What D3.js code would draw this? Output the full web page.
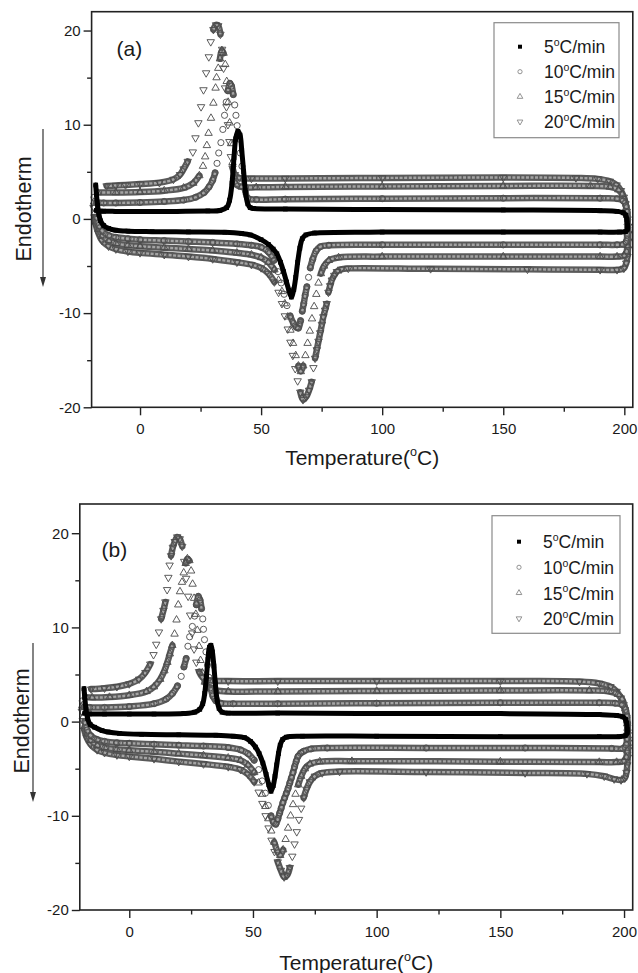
<!DOCTYPE html>
<html>
<head>
<meta charset="utf-8">
<style>
  body { margin: 0; background: #fff; }
  svg { display: block; font-family: "Liberation Sans", Arial, sans-serif; }
</style>
</head>
<body>
<svg id="chart" width="638" height="973"></svg>
<script src="https://cdn.jsdelivr.net/npm/d3@7/dist/d3.min.js"></script>
<script>
  // ---- data: [temperature °C, heat flow] ----
  // panel (a)
  const a5Heat = [[-18.3,3.6],[-18,2.6],[-17.5,1.4],[-17,0.5],[-16.3,-0.2],[-15,-0.7],[-13,-1.0],[-10,-1.2],[-5,-1.3],[5,-1.35],[20,-1.38],[35,-1.42],[42,-1.55],[45.5,-1.7],[50,-2.2],[53,-2.7],[55,-3.2],[56.5,-3.7],[58,-4.6],[59.3,-5.6],[60.5,-6.7],[61.5,-7.6],[62.5,-8.3],[63.5,-7.5],[64.3,-6.2],[65.1,-4.6],[66,-3.1],[67,-2.1],[68.5,-1.7],[72,-1.5],[100,-1.4],[150,-1.4],[190,-1.4],[198,-1.4],[200.5,-1.35],[201.3,-1.1]];
  const a5Cool = [[201.3,-0.7],[201.1,-0.1],[200.6,0.4],[199.5,0.65],[197,0.8],[190,0.88],[150,0.95],[100,1.0],[60,1.05],[47,1.1],[45.5,1.2],[44.5,1.6],[43.6,2.8],[42.8,5.0],[42,7.3],[41.3,8.9],[40.4,9.3],[39.5,8.5],[38.8,6.5],[38,3.8],[37,2.0],[35.8,1.2],[33,0.9],[28,0.85],[15,0.8],[0,0.8],[-10,0.8],[-15,0.82],[-18,0.9]];
  const a10Heat = [[-19,2.3],[-18.6,1.2],[-18,0.2],[-17,-0.7],[-15.5,-1.3],[-13,-1.75],[-10,-1.95],[-5,-2.1],[0,-2.2],[10,-2.3],[20,-2.4],[30,-2.5],[40,-2.65],[46,-2.8],[50,-3.0],[53,-3.5],[55.3,-4.4],[57,-5.6],[58.3,-6.8],[59.5,-8.0],[60.7,-9.2],[62,-10.3],[63.4,-11.1],[64.5,-11.5],[65.4,-11.6],[66.3,-10.8],[67,-9.8],[67.6,-9.0],[68.2,-8.1],[68.9,-7.2],[69.6,-6.2],[70.3,-5.2],[71.3,-4.3],[72.7,-3.4],[74.5,-2.95],[78,-2.8],[100,-2.75],[150,-2.75],[190,-2.75],[197,-2.75],[199.6,-2.7],[200.8,-2.4]];
  const a10Cool = [[201.2,-1.7],[201.4,-0.9],[201.4,-0.1],[201.2,0.7],[200.7,1.4],[199.6,1.9],[197,2.15],[190,2.2],[150,2.2],[100,2.15],[60,2.1],[48,2.05],[44.5,2.2],[43.5,3.0],[42.8,4.2],[42.1,5.6],[41.4,7.0],[40.7,8.5],[40.1,9.9],[39.6,11.0],[39.1,12.1],[38.5,13.2],[37.8,14.1],[37.1,14.4],[36.3,13.6],[35.6,12.4],[34.9,11.0],[34.2,9.5],[33.4,8.1],[32.5,7.0],[31.8,5.9],[31,4.9],[30,4.1],[28.5,3.4],[26.5,2.8],[23,2.3],[18,2.0],[10,1.85],[0,1.75],[-10,1.7],[-15,1.7],[-18,1.75]];
  const a15Heat = [[-19,1.8],[-18.6,0.7],[-18,-0.3],[-17,-1.1],[-15.5,-1.8],[-13,-2.3],[-10,-2.6],[-5,-2.8],[0,-2.9],[10,-3.05],[20,-3.2],[30,-3.35],[40,-3.6],[46,-3.8],[50,-4.1],[53,-4.6],[55.5,-5.4],[57.2,-6.5],[58.6,-7.7],[59.8,-9.0],[61,-10.4],[62.1,-11.8],[63.2,-13.2],[64.3,-14.5],[65.4,-15.6],[66.4,-16.2],[67.4,-15.6],[68.3,-14.5],[69.2,-13.2],[70.1,-11.9],[71,-10.6],[71.9,-9.3],[72.8,-8.0],[73.7,-6.8],[74.7,-5.8],[76,-5.0],[78,-4.4],[82,-4.1],[100,-4.0],[150,-4.0],[190,-4.0],[197,-4.0],[199.8,-3.9],[200.9,-3.5]];
  const a15Cool = [[201.3,-2.8],[201.5,-2.0],[201.5,-1.2],[201.4,-0.4],[201.2,0.4],[200.8,1.2],[200.2,2.0],[199.2,2.6],[197.5,3.1],[194,3.4],[186,3.5],[150,3.5],[100,3.45],[60,3.4],[48,3.35],[42,3.4],[39.6,3.7],[38.8,4.5],[38.2,6.0],[37.6,8.0],[37,10.2],[36.4,12.4],[35.8,14.6],[35.2,16.4],[34.5,17.6],[33.8,17.9],[33,17.0],[32.3,16.0],[31.6,15.0],[31.2,13.9],[30.3,12.3],[29.3,10.7],[28.3,9.1],[27.6,7.8],[26.9,6.6],[26,5.6],[24.5,4.6],[22,3.8],[18,3.3],[10,3.0],[0,2.85],[-10,2.8],[-17.5,2.8]];
  const a20Heat = [[-19.2,1.2],[-18.8,0.2],[-18.2,-0.7],[-17.2,-1.5],[-15.7,-2.3],[-13,-2.9],[-10,-3.2],[-5,-3.45],[0,-3.6],[10,-3.8],[20,-4.0],[30,-4.25],[40,-4.6],[46,-4.85],[50,-5.2],[53,-5.8],[55.5,-6.7],[57.2,-7.8],[58.6,-9.0],[59.8,-10.3],[61,-11.7],[62.1,-13.1],[63.1,-14.5],[64.1,-15.9],[65.1,-17.2],[66.2,-18.4],[67.3,-19.2],[68.6,-18.9],[69.8,-18.2],[70.9,-17.3],[71.6,-15.8],[72.3,-14.8],[73,-13.9],[73.7,-13.0],[74.4,-12.1],[75.1,-11.2],[75.7,-10.4],[76.4,-9.7],[77.1,-9.0],[77.8,-7.8],[78.5,-7.1],[79.2,-6.5],[80.2,-6.0],[81.3,-5.6],[83,-5.35],[86,-5.25],[120,-5.3],[160,-5.35],[190,-5.4],[197,-5.4],[199.8,-5.25],[200.8,-4.7]];
  const a20Cool = [[201.3,-4.0],[201.5,-3.2],[201.6,-2.4],[201.6,-1.6],[201.5,-0.8],[201.3,0],[201,0.8],[200.5,1.6],[199.8,2.3],[198.6,3.0],[196.8,3.6],[194,4.0],[189,4.25],[180,4.35],[150,4.4],[100,4.35],[60,4.3],[46,4.3],[41,4.35],[39.2,4.7],[38.2,5.4],[37.5,6.6],[36.9,8.2],[36.3,10.0],[35.7,11.9],[35.1,13.9],[34.5,16.0],[33.9,18.0],[33.2,19.6],[32.3,20.5],[31.4,20.6],[30.3,20.1],[29.2,18.8],[28.4,17.2],[27.3,15.5],[26.2,13.7],[25.2,11.9],[24.1,10.2],[22.9,8.6],[21.8,7.1],[19.7,6.1],[18,5.3],[16.5,4.7],[13.8,4.2],[8,3.85],[0,3.7],[-6,3.6],[-10,3.55],[-13.8,3.5]];

  // panel (b)
  const b5Heat = [[-18.3,3.5],[-18,2.6],[-17.5,1.3],[-16.8,0.3],[-15.8,-0.3],[-14,-0.6],[-11,-0.95],[-8.6,-1.1],[-4,-1.25],[5,-1.35],[20,-1.4],[35,-1.45],[42,-1.55],[46.6,-1.7],[49,-2.1],[51,-2.7],[52.5,-3.4],[54,-4.4],[55.3,-5.6],[56.4,-6.7],[57.3,-7.4],[58.2,-6.8],[58.9,-5.8],[59.6,-4.6],[60.3,-3.4],[61,-2.5],[62,-1.9],[63.5,-1.65],[70,-1.55],[100,-1.55],[150,-1.6],[190,-1.6],[198,-1.6],[200.5,-1.5],[201.3,-1.2]];
  const b5Cool = [[201.3,-0.8],[201.1,-0.2],[200.6,0.25],[199.5,0.5],[197,0.65],[190,0.75],[150,0.85],[100,0.85],[60,0.9],[40,0.9],[37.5,1.0],[36.3,1.4],[35.5,2.3],[34.8,4.0],[34.2,5.9],[33.6,7.4],[33,8.1],[32.4,7.9],[31.8,6.6],[31.2,4.8],[30.5,3.0],[29.7,1.9],[28.5,1.3],[26.5,1.0],[22,0.85],[10,0.8],[0,0.8],[-10,0.8],[-16,0.82],[-18,0.9]];
  const b10Heat = [[-19,2.2],[-18.6,1.0],[-18,0.0],[-17,-0.9],[-15.5,-1.5],[-13,-1.9],[-10,-2.1],[-5,-2.25],[0,-2.3],[10,-2.4],[20,-2.5],[30,-2.6],[40,-2.75],[45,-3.0],[48,-3.4],[50.5,-4.1],[52.3,-5.1],[53.7,-6.3],[55,-7.6],[56.2,-8.9],[57.3,-10.0],[58.3,-10.7],[59.2,-10.9],[60.1,-10.3],[60.8,-9.7],[61.4,-9.2],[62.1,-8.6],[62.8,-8.1],[63.5,-7.6],[64.2,-7.1],[64.9,-6.5],[65.5,-6.0],[66.2,-5.4],[66.8,-4.8],[67.5,-4.2],[68.2,-3.7],[69.3,-3.35],[70.5,-3.15],[73.5,-2.9],[80,-2.8],[120,-2.8],[160,-2.8],[195,-2.85],[199.5,-2.85],[200.8,-2.5]];
  const b10Cool = [[201.2,-1.8],[201.4,-1.0],[201.4,-0.2],[201.2,0.6],[200.6,1.3],[199.4,1.75],[196.5,1.95],[190,2.0],[150,2.0],[100,1.95],[60,1.9],[42,1.9],[37,1.95],[35,2.2],[33.8,2.7],[32.9,3.6],[32.2,4.7],[31.6,6.0],[31,7.4],[30.4,8.7],[30,9.8],[29.7,10.9],[29.2,12.0],[28.6,12.9],[27.9,13.3],[27.1,12.4],[26.4,11.2],[25.5,10.1],[24.4,9.0],[23.7,8.0],[23,6.7],[22.1,5.8],[21,4.8],[19.5,3.8],[17.5,3.0],[15,2.4],[10,1.9],[0,1.6],[-10,1.5],[-16,1.5],[-18.3,1.55]];
  const b15Heat = [[-19,1.7],[-18.6,0.5],[-18,-0.5],[-17,-1.3],[-15.5,-2.0],[-13,-2.5],[-10,-2.75],[-5,-2.95],[0,-3.05],[10,-3.2],[20,-3.4],[30,-3.6],[40,-3.85],[45,-4.1],[48,-4.6],[50.5,-5.4],[52.3,-6.5],[53.7,-7.7],[55,-9.0],[56.2,-10.3],[57.4,-11.6],[58.6,-12.8],[59.8,-13.7],[61,-14.2],[62.2,-13.6],[63.2,-12.5],[64.2,-11.3],[65.2,-10.0],[66.2,-8.8],[67.2,-7.7],[68.3,-6.7],[69.5,-5.8],[71,-5.0],[73,-4.5],[77,-4.25],[90,-4.2],[150,-4.25],[190,-4.3],[197,-4.3],[199.8,-4.2],[200.9,-3.8]];
  const b15Cool = [[201.3,-3.1],[201.5,-2.3],[201.5,-1.5],[201.4,-0.7],[201.2,0.1],[200.8,0.9],[200.2,1.7],[199.2,2.4],[197.5,2.9],[194,3.2],[186,3.3],[150,3.3],[100,3.25],[60,3.2],[40,3.2],[35,3.3],[32.5,3.5],[30.5,4.2],[29.5,5.2],[28.8,6.5],[28.2,8.0],[27.5,9.7],[26.9,11.4],[26.2,13.1],[25.6,14.6],[25,16.0],[24.3,17.1],[23.5,17.3],[22.8,16.8],[22,15.8],[21.3,14.8],[20.5,13.8],[19.8,12.4],[19.1,10.8],[18.3,9.3],[17.4,8.1],[16.4,7.2],[15.4,6.3],[14.2,5.4],[12.5,4.5],[10,3.7],[7,3.2],[0,2.8],[-8,2.6],[-15,2.55],[-17.5,2.6]];
  const b20Heat = [[-19.2,1.1],[-18.8,0.1],[-18.2,-0.9],[-17.2,-1.7],[-15.7,-2.4],[-13,-3.0],[-10,-3.3],[-5,-3.55],[0,-3.7],[10,-3.95],[20,-4.25],[30,-4.5],[40,-4.8],[45,-5.1],[48,-5.6],[50.5,-6.4],[52.3,-7.5],[53.8,-8.7],[55.1,-10.0],[56.3,-11.3],[57.5,-12.6],[58.7,-13.8],[60,-14.9],[61.3,-15.8],[62.6,-16.5],[63.8,-16.3],[64.9,-15.5],[65.9,-14.3],[66.8,-13.0],[67.7,-11.7],[68.6,-10.4],[69.5,-9.2],[70.5,-8.1],[71.6,-7.2],[73,-6.4],[75,-5.8],[78,-5.45],[85,-5.3],[120,-5.35],[160,-5.45],[185,-5.55],[192,-5.8],[196,-6.1],[198.8,-6.2],[200.3,-6.0],[201,-5.4]];
  const b20Cool = [[201.3,-4.6],[201.5,-3.8],[201.6,-3.0],[201.6,-2.2],[201.5,-1.4],[201.3,-0.6],[201,0.2],[200.5,1.0],[199.8,1.8],[198.7,2.5],[197,3.2],[194.5,3.7],[190,4.05],[182,4.25],[150,4.3],[100,4.3],[60,4.3],[40,4.3],[32,4.4],[29.6,4.7],[28.2,5.3],[27.1,6.3],[26.2,7.7],[25.4,9.4],[24.6,11.3],[23.8,13.3],[23,15.2],[22.2,17.0],[21.4,18.6],[20.4,19.4],[19.4,19.6],[18.4,19.1],[17.6,18.5],[16.9,17.6],[16.3,16.6],[15.8,15.3],[15.3,14.0],[14.6,12.7],[13.8,11.8],[12.9,10.9],[12,9.5],[10.9,8.2],[9.8,7.1],[8.5,6.1],[6.5,5.2],[4,4.5],[0,4.0],[-5,3.7],[-10,3.55],[-15.4,3.45]];

  const rateLabels = ["5", "10", "15", "20"];
  const xMajor = [0, 50, 100, 150, 200];
  const xMinor = [25, 75, 125, 175];
  const yMajor = [-20, -10, 0, 10, 20];
  const yMinor = [-15, -5, 5, 15];

  const panels = [
    { tag: "(a)", tagX: 116.5, tagY: 56,
      left: 91.6, right: 632.8, top: 11.7, bottom: 407.3, yMax: 22.0,
      series: [[a5Heat, a5Cool], [a10Heat, a10Cool], [a15Heat, a15Cool], [a20Heat, a20Cool]],
      legend: { x: 494, y: 22.7, w: 125, h: 115, symX: 520, textX: 544, row0: 46.7, step: 25 },
      endoX: 31, endoY: 209, arrowX: 43, arrowY0: 129, arrowY1: 287, titleY: 465 },
    { tag: "(b)", tagX: 101.5, tagY: 557,
      left: 79.8, right: 632.7, top: 504, bottom: 910, yMax: 23.1,
      series: [[b5Heat, b5Cool], [b10Heat, b10Cool], [b15Heat, b15Cool], [b20Heat, b20Cool]],
      legend: { x: 492, y: 515.7, w: 128, h: 117.6, symX: 519, textX: 543, row0: 541.7, step: 25.6 },
      endoX: 28.5, endoY: 721, arrowX: 33, arrowY0: 643, arrowY1: 802, titleY: 970 }
  ];

  const svg = d3.select("#chart");
  const ink = "#222";

  const symbolFor = [d3.symbolSquare, d3.symbolCircle, d3.symbolTriangle, d3.symbolTriangle];
  const rotFor = [0, 0, 0, 180];
  const sizeFor = [22, 30, 24, 24];

  function splitSteep(pts, x, y, maxDy) {
    const out = [];
    let cur = [pts[0]];
    for (let i = 1; i < pts.length; i++) {
      if (Math.abs(y(pts[i][1]) - y(pts[i - 1][1])) > maxDy) { out.push(cur); cur = []; }
      cur.push(pts[i]);
    }
    out.push(cur);
    return out.filter(s => s.length > 1);
  }

  function degText(sel, before, after, size) {
    sel.append("tspan").text(before);
    sel.append("tspan").attr("font-size", size * 0.6).attr("dy", -size * 0.42).text("o");
    sel.append("tspan").attr("dy", size * 0.42).text(after);
  }

  panels.forEach(p => {
    const x = d3.scaleLinear().domain([-20, 203.5]).range([p.left, p.right]);
    const y = d3.scaleLinear().domain([-20, p.yMax]).range([p.bottom, p.top]);
    const g = svg.append("g");

    const line = d3.line().x(d => x(d[0])).y(d => y(d[1])).curve(d3.curveCatmullRom.alpha(0.5));

    // draw fast rates first so the 5 °C/min trace sits on top
    [3, 2, 1, 0].forEach(k => {
      const pts = p.series[k][0].concat(p.series[k][1]);
      const sg = g.append("g");
      if (k === 0) {
        sg.append("path").attr("d", line(pts)).attr("fill", "none")
          .attr("stroke", "#000").attr("stroke-width", 5)
          .attr("stroke-linejoin", "round").attr("stroke-linecap", "round");
      } else {
        const segs = splitSteep(pts, x, y, 9);
        sg.selectAll("path.outer").data(segs).enter().append("path")
          .attr("class", "outer").attr("d", line).attr("fill", "none")
          .attr("stroke", "#5a5a5a").attr("stroke-width", 6.5)
          .attr("stroke-linejoin", "round").attr("stroke-linecap", "round");
        sg.selectAll("path.inner").data(segs).enter().append("path")
          .attr("class", "inner").attr("d", line).attr("fill", "none")
          .attr("stroke", "#a4a4a4").attr("stroke-width", 2.4)
          .attr("stroke-dasharray", "3,1.5")
          .attr("stroke-linejoin", "round");
      }
      const sym = d3.symbol().type(symbolFor[k]).size(sizeFor[k]);
      sg.selectAll("path.pt").data(pts).enter().append("path")
        .attr("class", "pt")
        .attr("d", sym)
        .attr("transform", d => `translate(${x(d[0])},${y(d[1])}) rotate(${rotFor[k]})`)
        .attr("fill", k === 0 ? "#000" : "none")
        .attr("stroke", k === 0 ? "none" : "#4a4a4a")
        .attr("stroke-width", 0.9);
    });

    // frame
    g.append("rect").attr("x", p.left).attr("y", p.top)
      .attr("width", p.right - p.left).attr("height", p.bottom - p.top)
      .attr("fill", "none").attr("stroke", ink).attr("stroke-width", 1.6);

    // axes
    const fmt = d => String(d);
    const xa = g.append("g").attr("transform", `translate(0,${p.bottom})`)
      .call(d3.axisBottom(x).tickValues(xMajor).tickSize(8).tickPadding(8).tickFormat(fmt));
    const xm = g.append("g").attr("transform", `translate(0,${p.bottom})`)
      .call(d3.axisBottom(x).tickValues(xMinor).tickSize(4.5).tickFormat(""));
    const ya = g.append("g").attr("transform", `translate(${p.left},0)`)
      .call(d3.axisLeft(y).tickValues(yMajor).tickSize(8).tickPadding(3).tickFormat(fmt));
    const ym = g.append("g").attr("transform", `translate(${p.left},0)`)
      .call(d3.axisLeft(y).tickValues(yMinor).tickSize(4.5).tickFormat(""));
    [xa, xm, ya, ym].forEach(a => {
      a.select(".domain").remove();
      a.selectAll(".tick line").attr("stroke", ink).attr("stroke-width", 1.4);
      a.selectAll(".tick text").attr("fill", "#1a1a1a").attr("font-size", 15)
        .attr("font-family", "Liberation Sans, Arial, sans-serif");
    });

    // axis title
    const t = g.append("text").attr("x", (p.left + p.right) / 2).attr("y", p.titleY)
      .attr("text-anchor", "middle").attr("font-size", 21).attr("fill", "#1a1a1a");
    degText(t, "Temperature(", "C)", 21);

    // Endotherm label with downward arrow
    g.append("text")
      .attr("transform", `translate(${p.endoX},${p.endoY}) rotate(-90)`)
      .attr("text-anchor", "middle").attr("font-size", 21.5).attr("fill", "#1a1a1a")
      .text("Endotherm");
    g.append("line").attr("x1", p.arrowX).attr("x2", p.arrowX)
      .attr("y1", p.arrowY0).attr("y2", p.arrowY1 - 8)
      .attr("stroke", "#333").attr("stroke-width", 1.2);
    g.append("path")
      .attr("d", `M${p.arrowX - 3},${p.arrowY1 - 10}L${p.arrowX + 3},${p.arrowY1 - 10}L${p.arrowX},${p.arrowY1}Z`)
      .attr("fill", "#333");

    // panel tag
    g.append("text").attr("x", p.tagX).attr("y", p.tagY)
      .attr("font-size", 21).attr("fill", "#1a1a1a").text(p.tag);

    // legend
    const L = p.legend;
    g.append("rect").attr("x", L.x).attr("y", L.y).attr("width", L.w).attr("height", L.h)
      .attr("fill", "#fff").attr("stroke", "#8a8a8a").attr("stroke-width", 1.2);
    rateLabels.forEach((r, k) => {
      const cy = L.row0 + k * L.step;
      g.append("path")
        .attr("d", d3.symbol().type(symbolFor[k]).size(k === 0 ? 16 : 14)())
        .attr("transform", `translate(${L.symX},${cy}) rotate(${rotFor[k]})`)
        .attr("fill", k === 0 ? "#000" : "none")
        .attr("stroke", k === 0 ? "none" : "#888").attr("stroke-width", 0.9);
      const lt = g.append("text").attr("x", L.textX).attr("y", cy + 6.6)
        .attr("font-size", 17.5).attr("fill", "#1a1a1a");
      degText(lt, r, "C/min", 17.5);
    });
  });
</script>
</body>
</html>
